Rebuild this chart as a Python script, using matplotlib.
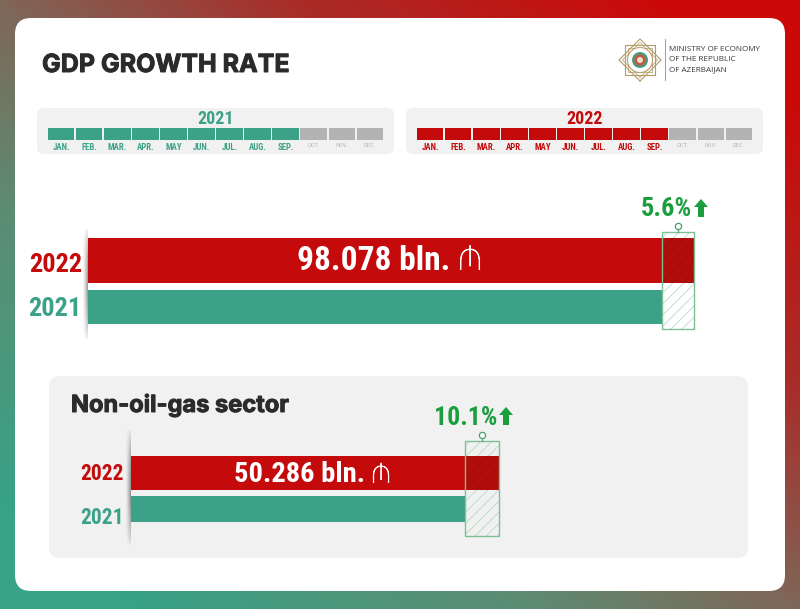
import numpy as np
import matplotlib
matplotlib.use('Agg')
import matplotlib.pyplot as plt
import matplotlib.patheffects as pe
from matplotlib.colors import LinearSegmentedColormap
from matplotlib.patches import FancyBboxPatch, Rectangle, Polygon, Circle

W, H = 800, 609

months = ['JAN.', 'FEB.', 'MAR.', 'APR.', 'MAY', 'JUN.', 'JUL.', 'AUG.', 'SEP.', 'OCT.', 'NOV.', 'DEC.']
months_done = 9

years = ['2022', '2021']
gdp_values = [98.078, 92.88]
gdp_label = '98.078 bln.'
gdp_growth = '5.6%'

non_oil_values = [50.286, 45.67]
non_oil_label = '50.286 bln.'
non_oil_growth = '10.1%'

RED = '#c40a0a'
TEAL = '#3ca287'
GREEN = '#1b9e3e'
GREY = '#b3b3b3'
PANEL = '#f1f1f1'
NARROW = ['Roboto Condensed', 'Roboto', 'DejaVu Sans']
HEAVY = ['Inter', 'DejaVu Sans']
MANAT = ['Montserrat', 'Roboto', 'DejaVu Sans']

plt.rcParams['hatch.linewidth'] = 0.5

fig = plt.figure(figsize=(W / 100, H / 100), dpi=100)


def px_axes(x0, y0, x1, y1, zorder=1):
    # axes placed in image pixels, y counted from the top
    ax = fig.add_axes([x0 / W, 1 - y1 / H, (x1 - x0) / W, (y1 - y0) / H], zorder=zorder)
    ax.patch.set_alpha(0)
    return ax


# background and cards
bg = px_axes(0, 0, W, H, zorder=0)
bg.set_xlim(0, W)
bg.set_ylim(H, 0)
bg.axis('off')
xx, yy = np.meshgrid(np.linspace(0, 1, 200), np.linspace(0, 1, 160))
grad = (xx + (1 - yy)) / 2
cmap = LinearSegmentedColormap.from_list('bg', [(0, '#38a386'), (0.3, '#5c8c72'), (0.5, '#7f6658'), (0.72, '#a92c28'), (1, '#cc0808')])
bg.imshow(grad, cmap=cmap, extent=(0, W, H, 0), aspect='auto', vmin=0.08, vmax=0.92)


def rounded(x0, y0, x1, y1, r, color):
    bg.add_patch(FancyBboxPatch((x0 + r, y0 + r), x1 - x0 - 2 * r, y1 - y0 - 2 * r,
                                boxstyle=f'round,pad={r},rounding_size={r}', fc=color, ec='none'))


rounded(15, 18, 785, 591, 16, 'white')
rounded(37, 108, 394, 154, 7, PANEL)
rounded(406, 108, 763, 154, 7, PANEL)
rounded(49, 376, 748, 558, 11, PANEL)

thick = [pe.withStroke(linewidth=0.7, foreground='#2b2b2b')]
bg.text(42, 65.5, 'GDP GROWTH RATE', family=HEAVY, weight='bold', fontsize=18,
        color='#2b2b2b', va='center', ha='left', path_effects=thick)
bg.text(71, 405.5, 'Non-oil-gas sector', family=HEAVY, weight='bold', fontsize=17,
        color='#2b2b2b', va='center', ha='left', path_effects=thick)

# ministry logo
gold = '#b59a68'
for a in (0, 45):
    t = np.radians(np.array([45, 135, 225, 315, 405]) + a)
    bg.plot(640 + 21 * np.cos(t), 60 + 21 * np.sin(t), color=gold, lw=0.8)
    bg.plot(640 + 17.5 * np.cos(t), 60 + 17.5 * np.sin(t), color=gold, lw=0.5)
bg.add_patch(Circle((640, 60), 12.5, fc='white', ec=gold, lw=0.7, zorder=3))
bg.add_patch(Circle((640, 60), 8, fc='#4f9a7c', ec='none', zorder=3))
bg.add_patch(Circle((640, 60), 5.5, fc='#c8553f', ec='none', zorder=3))
bg.add_patch(Circle((640, 60), 3, fc='#e8e2c8', ec='none', zorder=3))
bg.plot([665, 665], [39, 80], color='#9a9a9a', lw=0.7)
for y, line in zip((49.5, 59.5, 69.5), ('MINISTRY OF ECONOMY', 'OF THE REPUBLIC', 'OF AZERBAIJAN')):
    bg.text(669, y, line, fontsize=5.9, family='Open Sans', color='#3a3a3a', va='center', ha='left')


def month_strip(x0, x1, year, color):
    ax = px_axes(x0, 128, x1, 140, zorder=2)
    pos = np.arange(len(months))
    colors = [color if i < months_done else GREY for i in pos]
    ax.bar(pos, 1, width=0.95, color=colors)
    ax.set_xlim(-0.5, len(months) - 0.5)
    ax.set_ylim(0, 1)
    ax.set_yticks([])
    ax.set_xticks(pos, months, family=NARROW, weight='bold', fontsize=6.3)
    ax.tick_params(axis='x', length=0, pad=2)
    for i, lab in enumerate(ax.get_xticklabels()):
        if i < months_done:
            lab.set_color(color)
        else:
            lab.set_color('#b8b8b8')
            lab.set_fontsize(4.6)
            lab.set_weight('normal')
    for s in ax.spines.values():
        s.set_visible(False)
    ax.text(0.5, 1.72, year, transform=ax.transAxes, family=NARROW, weight='bold',
            fontsize=13, color=color, ha='center', va='center')


month_strip(47, 384, '2021', TEAL)
month_strip(416, 753, '2022', RED)


def bar_chart(x0, x1, y0, y1, values, centres, heights, box, label_ys, lab_size, gap):
    # x scale runs from zero to the 2022 value
    ax = px_axes(x0, y0, x1, y1, zorder=2)
    ax.set_xlim(0, values[0])
    ax.set_ylim(y1, y0)
    ax.barh(centres, values, height=heights, color=[RED, TEAL], zorder=2)

    # growth box between the 2021 and 2022 ends, hatch goes dark over the red bar
    width = values[0] - values[1]
    ax.add_patch(Rectangle((values[1], box[0]), width, box[1] - box[0], fc='none', ec='#a9d6b8',
                           hatch='///', lw=0, zorder=3))
    ax.add_patch(Rectangle((values[1], centres[0] - heights[0] / 2), width, heights[0],
                           fc='#b20d0b', ec='#960f0c', hatch='///', lw=0, zorder=4))
    ax.add_patch(Rectangle((values[1], box[0]), width, box[1] - box[0], fc='none', ec='#7fbf95',
                           lw=1.0, zorder=5, clip_on=False))

    ax.set_yticks(label_ys, years, family=NARROW, weight='bold', fontsize=lab_size)
    ax.tick_params(axis='y', length=0, pad=gap)
    ax.tick_params(axis='x', bottom=False, labelbottom=False)
    ax.get_yticklabels()[0].set_color(RED)
    ax.get_yticklabels()[1].set_color(TEAL)
    for s in ax.spines.values():
        s.set_visible(False)

    # soft shadow along the baseline, left of the bars
    sh = px_axes(x0 - 6, y0 - 2, x0, y1 + 2, zorder=3)
    sh.axis('off')
    rgba = np.zeros((50, 12, 4))
    rgba[..., 3] = np.sin(np.linspace(0, np.pi, 50))[:, None] ** 0.7 * np.linspace(0, 0.55, 12)[None, :] ** 1.5
    sh.imshow(rgba, aspect='auto')

    xmid = (values[1] + values[0]) / 2
    top_y = box[0] - 6
    ax.plot([xmid, xmid], [box[0], top_y + 2], color='#5fae7c', lw=0.9, clip_on=False, zorder=6)
    ax.plot([xmid], [top_y], marker='o', ms=4.5, mfc='white', mec='#4a9e68', mew=0.9, clip_on=False, zorder=6)


bar_chart(88, 694, 228, 340, gdp_values, [260, 307], [45, 34], (232, 329), [262, 307], 19, 4.5)
bar_chart(131, 499, 430, 545, non_oil_values, [473, 509], [34, 26], (441, 536), [472, 516], 15.5, 5)

# value labels and growth figures, on top of the bars
top = px_axes(0, 0, W, H, zorder=5)
top.set_xlim(0, W)
top.set_ylim(H, 0)
top.axis('off')
manat_line = [pe.withStroke(linewidth=0.6, foreground='white')]
top.text(450, 261.5, gdp_label, family=NARROW, weight='bold', fontsize=24, color='white', ha='right', va='center')
top.text(470, 262, '\u20bc', family=MANAT, fontsize=21, color='white', ha='center', va='center', path_effects=manat_line)
top.text(365, 475, non_oil_label, family=NARROW, weight='bold', fontsize=20.5, color='white', ha='right', va='center')
top.text(381, 476, '\u20bc', family=MANAT, fontsize=17, color='white', ha='center', va='center', path_effects=manat_line)
top.text(692, 209, gdp_growth, family=NARROW, weight='bold', fontsize=19, color=GREEN, ha='right', va='center')
top.text(497, 418, non_oil_growth, family=NARROW, weight='bold', fontsize=18.5, color=GREEN, ha='right', va='center')


def up_arrow(cx, y0, y1):
    top.add_patch(Polygon([(cx, y0), (cx + 7, y0 + 8), (cx + 3, y0 + 8), (cx + 3, y1), (cx - 3, y1),
                           (cx - 3, y0 + 8), (cx - 7, y0 + 8)], fc=GREEN, ec='none'))


up_arrow(701, 199, 217)
up_arrow(506, 407, 425)

fig.savefig('out.png', dpi=100)
